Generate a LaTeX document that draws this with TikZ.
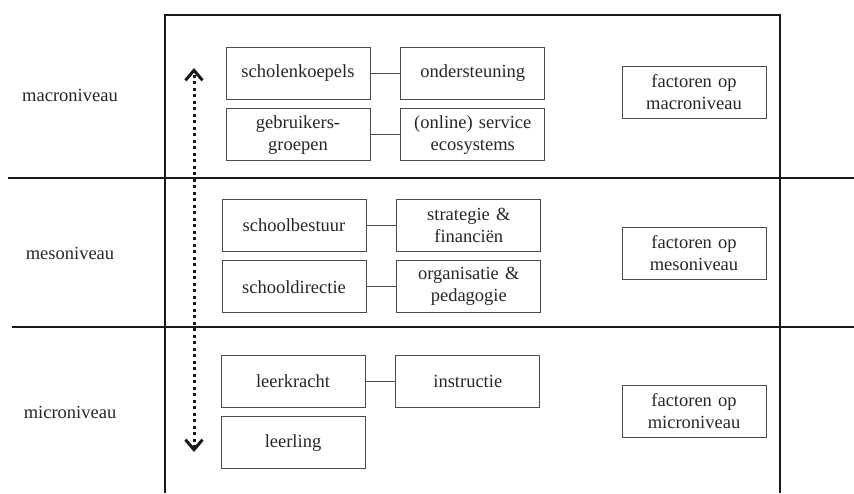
\documentclass[tikz,border=0pt]{standalone}
\usepackage{fontspec}
\setmainfont{Liberation Serif}
\usepackage{tikz}
\usetikzlibrary{positioning, arrows.meta}
\tikzstyle{actor}=[rectangle, minimum width=144pt, minimum height=52pt, text centered, text width=138pt, inner sep=0pt, draw=black!70, line width=0.8pt, text=black!85, font=\fontsize{18.5}{22}\selectfont]
\tikzstyle{theme}=[actor]
\tikzstyle{factor}=[actor]
\tikzstyle{levellabel}=[text=black!85, font=\fontsize{18.5}{22}\selectfont]
\tikzstyle{link}=[line width=0.8pt, draw=black!70]
\tikzstyle{frame}=[line width=2.5pt, draw=black!90]
\tikzstyle{levelarrow}=[line width=3pt, draw=black!90, dash pattern=on 3pt off 3.5pt, {Straight Barb[length=10pt,width=17pt,line width=3pt]}-{Straight Barb[length=10pt,width=17pt,line width=3pt]}]

\begin{document}
\begin{tikzpicture}[x=1pt, y=-1pt, node distance=9pt and 30pt]
		\useasboundingbox (0,0) rectangle (854,493);
		
		% frame and level lines
		\draw[frame] (165,493) -- (165,15) -- (780,15) -- (780,493);
		\draw[frame] (8,178) -- (854,178);
		\draw[frame] (12,327) -- (854,327);
		
		% macro
		\node(macro)[levellabel] at (70,95) {macroniveau};
		\node(koepels)[actor] at (298,73) {scholenkoepels};
		\node(gebruikers)[actor, below=of koepels] {gebruikers-\\groepen};
		\node(ondersteuning)[theme, right=of koepels] {ondersteuning};
		\node(ecosystems)[theme, right=of gebruikers] {(online) service\\ecosystems};
		\node(fmacro)[factor] at (694,92) {factoren op\\macroniveau};
		
		% meso
		\node(meso)[levellabel] at (70,253) {mesoniveau};
		\node(bestuur)[actor] at (294,225) {schoolbestuur};
		\node(directie)[actor, below=of bestuur] {schooldirectie};
		\node(strategie)[theme, right=of bestuur] {strategie \&\\financiën};
		\node(organisatie)[theme, right=of directie] {organisatie \&\\pedagogie};
		\node(fmeso)[factor] at (694,253) {factoren op\\mesoniveau};
		
		% micro
		\node(micro)[levellabel] at (70,412) {microniveau};
		\node(leerkracht)[actor] at (293,381) {leerkracht};
		\node(leerling)[actor, below=of leerkracht] {leerling};
		\node(instructie)[theme, right=of leerkracht] {instructie};
		\node(fmicro)[factor] at (694,411) {factoren op\\microniveau};
		
		\draw[link](koepels)--(ondersteuning);
		\draw[link](gebruikers)--(ecosystems);
		\draw[link](bestuur)--(strategie);
		\draw[link](directie)--(organisatie);
		\draw[link](leerkracht)--(instructie);
		
		\coordinate(top) at (194,68);
		\coordinate(bottom) at (194,452);
		\draw[levelarrow](bottom)--(top);
	\end{tikzpicture}
\end{document}
